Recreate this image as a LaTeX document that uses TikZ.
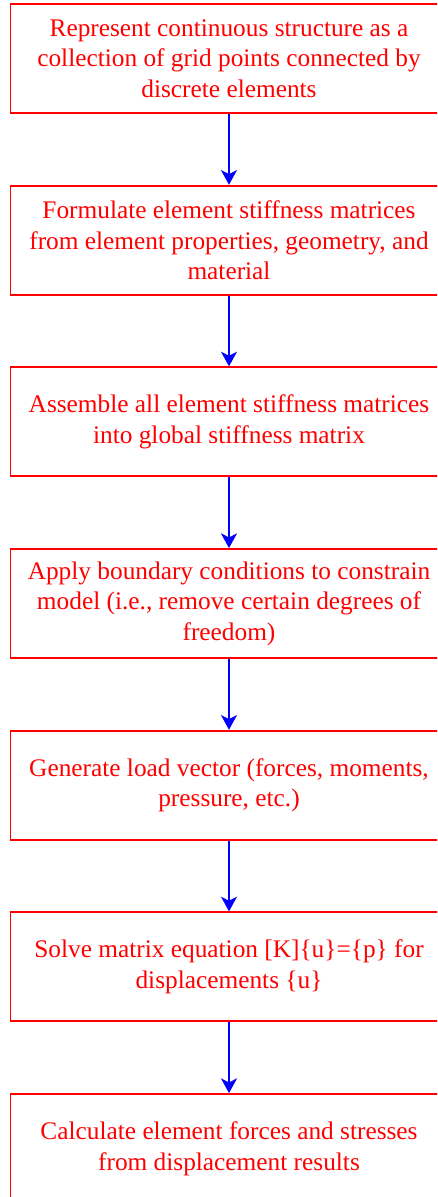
\documentclass[tikz,border=0pt]{standalone}
\usepackage{fontspec}
\setmainfont{Liberation Serif}
\usetikzlibrary{arrows.meta}

\begin{document}
\begin{tikzpicture}[x=0.75pt, y=-0.75pt, >={Stealth[length=11pt,width=12pt,inset=3pt]},
    stepbox/.style={draw=red, line width=1.4pt, minimum width=327.75pt, minimum height=81.75pt,
        text=red, align=center, font=\fontsize{19pt}{22.9pt}\selectfont},
    flow/.style={->, draw=blue, line width=1.4pt}]
    \useasboundingbox (0,0) rectangle (437,1197);
    \clip (0,0) rectangle (437,1197);
    \node[stepbox] (s1) at (229,58.5) {Represent continuous structure as a\\collection of grid points connected by\\discrete elements};
    \node[stepbox] (s2) at (229,240.2) {Formulate element stiffness matrices\\from element properties, geometry, and\\material};
    \node[stepbox] (s3) at (229,421.8) {Assemble all element stiffness matrices\\into global stiffness matrix};
    \node[stepbox] (s4) at (229,603.5) {Apply boundary conditions to constrain\\model (i.e., remove certain degrees of\\freedom)};
    \node[stepbox] (s5) at (229,785.2) {Generate load vector (forces, moments,\\pressure, etc.)};
    \node[stepbox] (s6) at (229,966.8) {Solve matrix equation [K]\{u\}=\{p\} for\\displacements \{u\}};
    \node[stepbox] (s7) at (229,1148.5) {Calculate element forces and stresses\\from displacement results};
    \draw[flow] (s1) -- (s2);
    \draw[flow] (s2) -- (s3);
    \draw[flow] (s3) -- (s4);
    \draw[flow] (s4) -- (s5);
    \draw[flow] (s5) -- (s6);
    \draw[flow] (s6) -- (s7);
\end{tikzpicture}
\end{document}
